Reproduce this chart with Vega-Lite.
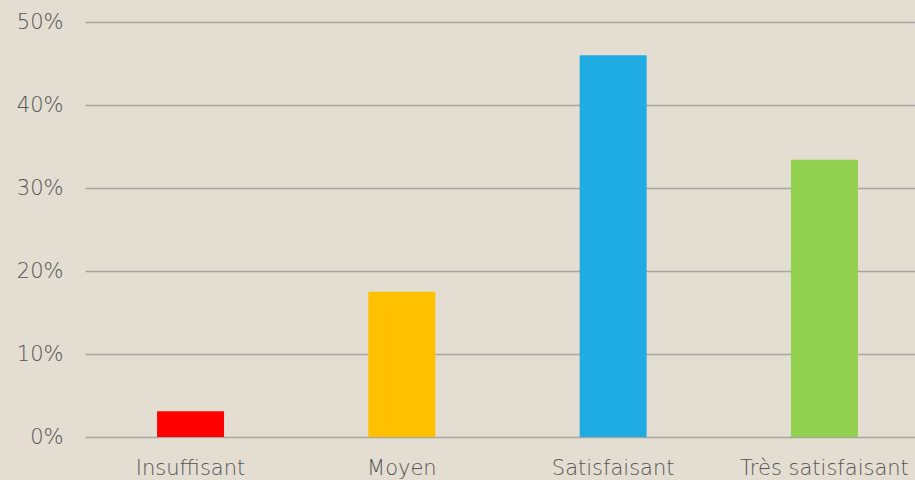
{
  "$schema": "https://vega.github.io/schema/vega-lite/v6.json",
  "autosize": {"type": "none"},
  "width": 830,
  "height": 415,
  "padding": {"left": 85, "top": 22, "right": 0, "bottom": 43},
  "background": "#e3ddd2",
  "data": {"values": [
    {"cat": "Insuffisant", "pct": 0.031},
    {"cat": "Moyen", "pct": 0.175},
    {"cat": "Satisfaisant", "pct": 0.46},
    {"cat": "Très satisfaisant", "pct": 0.334}
  ]},
  "mark": {"type": "bar"},
  "encoding": {
    "x": {
      "field": "cat", "type": "nominal", "sort": null,
      "scale": {"range": [0, 845], "paddingInner": 0.683, "paddingOuter": 0.341},
      "axis": {"title": null, "labelAngle": 0, "domain": false, "ticks": false, "labelPadding": 20, "labelFontSize": 21, "labelColor": "#555555", "labelFont": "DejaVu Sans", "labelFontWeight": 300}
    },
    "y": {
      "field": "pct", "type": "quantitative",
      "scale": {"domain": [0, 0.5], "nice": false},
      "axis": {"title": null, "format": ".0%", "values": [0, 0.1, 0.2, 0.3, 0.4, 0.5], "domain": false, "ticks": false, "labelPadding": 22, "labelFontSize": 21, "labelColor": "#555555", "labelFont": "DejaVu Sans", "labelFontWeight": 300, "gridColor": "#a9a6a1", "gridWidth": 1.6, "gridOpacity": 1}
    },
    "color": {
      "field": "cat", "type": "nominal", "legend": null,
      "scale": {"domain": ["Insuffisant", "Moyen", "Satisfaisant", "Très satisfaisant"], "range": ["#ff0000", "#ffc000", "#1eace2", "#92d050"]}
    }
  },
  "config": {"view": {"stroke": null}}
}
